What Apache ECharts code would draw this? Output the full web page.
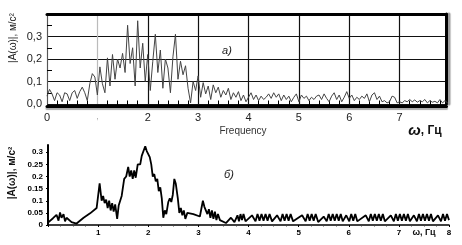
<!DOCTYPE html>
<html><head><meta charset="utf-8">
<script src="https://cdn.jsdelivr.net/npm/echarts@6/dist/echarts.min.js"></script>
<style>html,body{margin:0;padding:0;background:#fff}#c{width:462px;height:245px}</style>
</head><body><div id="c"></div>
<script>
// Top chart (а): amplitude spectrum sampled every 0.05 Hz from 0 to 8 Hz
const stepA = 0.05;
const ampA = [
 0.035,0.065,0.045,0.015,0.050,0.040,0.010,0.050,0.045,0.015,
 0.050,0.060,0.025,0.055,0.075,0.050,0.015,0.090,0.135,0.120,
 0.040,0.165,0.090,0.050,0.205,0.080,0.220,0.110,0.200,0.160,
 0.225,0.140,0.350,0.180,0.250,0.080,0.370,0.160,0.270,0.100,
 0.220,0.060,0.190,0.310,0.140,0.240,0.070,0.200,0.160,0.050,
 0.210,0.310,0.110,0.190,0.130,0.170,0.070,0.005,0.100,0.060,
 0.125,0.030,0.095,0.045,0.080,0.020,0.085,0.050,0.075,0.030,
 0.060,0.040,0.070,0.020,0.050,0.030,0.055,0.015,0.040,0.010,
 0.030,0.050,0.020,0.040,0.015,0.035,0.020,0.030,0.045,0.025,
 0.050,0.030,0.045,0.015,0.040,0.020,0.035,0.010,0.030,0.045,
 0.010,0.040,0.025,0.035,0.015,0.030,0.020,0.035,0.040,0.020,
 0.045,0.025,0.010,0.035,0.050,0.020,0.040,0.010,0.030,0.055,
 0.025,0.040,0.015,0.030,0.020,0.035,0.025,0.045,0.010,0.040,
 0.050,0.020,0.035,0.010,0.015,0.005,0.010,0.035,0.030,0.005,
 0.010,0.005,0.015,0.010,0.020,0.010,0.018,0.008,0.015,0.010,
 0.020,0.005,0.015,0.008,0.012,0.005,0.020,0.005,0.015,0.005,
 0.010
];
// Bottom chart (б)
const freqB = [
 0.00,0.10,0.17,0.21,0.24,0.27,0.31,0.34,0.37,0.47,0.57,0.71,0.84,0.97,1.03,
 1.07,1.10,1.13,1.16,1.19,1.22,1.25,1.28,1.31,1.34,1.38,1.41,1.47,1.52,1.56,
 1.60,1.63,1.66,1.69,1.72,1.75,1.79,1.84,1.87,1.94,1.97,2.00,2.03,2.06,2.09,
 2.12,2.15,2.18,2.21,2.24,2.27,2.30,2.33,2.36,2.40,2.43,2.46,2.49,2.52,2.55,
 2.59,2.62,2.65,2.68,2.71,2.74,2.78,2.90,3.03,3.09,3.12,3.15,3.18,3.21,3.24,
 3.27,3.30,3.33,3.36,3.39,3.43,3.55,3.65,3.72,3.78,3.81,3.84,3.87,3.90,3.94,
 4.07,4.14,4.18,4.22,4.26,4.30,4.34,4.38,4.42,4.47,4.57,4.64,4.68,4.72,4.76,
 4.80,4.84,4.89,5.07,5.14,5.18,5.22,5.26,5.30,5.34,5.39,5.50,5.56,5.60,5.64,
 5.68,5.72,5.76,5.80,5.84,5.88,5.95,6.01,6.05,6.09,6.13,6.17,6.34,6.40,6.44,
 6.48,6.52,6.56,6.60,6.64,6.68,6.72,6.84,6.90,6.94,6.98,7.02,7.06,7.10,7.14,
 7.18,7.22,7.30,7.36,7.40,7.44,7.48,7.52,7.56,7.60,7.64,7.68,7.78,7.84,7.88,
 7.92,7.96,8.00
];
const ampB = [
 0.010,0.028,0.042,0.018,0.052,0.030,0.045,0.015,0.030,0.012,0.006,0.030,0.048,0.070,0.172,
 0.100,0.120,0.090,0.105,0.070,0.100,0.060,0.090,0.055,0.085,0.025,0.080,0.120,0.190,0.200,
 0.240,0.200,0.225,0.190,0.225,0.195,0.250,0.250,0.285,0.325,0.305,0.310,0.280,0.250,0.200,
 0.210,0.180,0.190,0.140,0.155,0.110,0.030,0.060,0.045,0.095,0.110,0.095,0.125,0.190,0.170,
 0.110,0.050,0.070,0.040,0.060,0.025,0.050,0.045,0.035,0.100,0.075,0.080,0.045,0.065,0.030,
 0.060,0.025,0.055,0.020,0.045,0.020,0.008,0.030,0.012,0.040,0.015,0.045,0.020,0.045,0.015,
 0.040,0.015,0.045,0.018,0.045,0.018,0.045,0.018,0.045,0.015,0.040,0.015,0.045,0.018,0.045,
 0.018,0.045,0.015,0.040,0.015,0.045,0.018,0.045,0.018,0.045,0.012,0.035,0.015,0.045,0.018,
 0.045,0.018,0.045,0.018,0.045,0.015,0.040,0.015,0.045,0.018,0.045,0.015,0.040,0.015,0.045,
 0.018,0.045,0.018,0.045,0.018,0.045,0.015,0.040,0.015,0.045,0.018,0.045,0.018,0.045,0.018,
 0.045,0.015,0.040,0.015,0.045,0.018,0.045,0.018,0.045,0.018,0.045,0.015,0.040,0.015,0.045,
 0.018,0.045,0.020
];
const yTitle = '|A(ω)|, м/с²';
const xUnit = 'ω, Гц';

const dataA = ampA.map((v, i) => [+(i * stepA).toFixed(2), v]);
const dataB = freqB.map((f, i) => [f, ampB[i]]);

const chart = echarts.init(document.getElementById('c'), null, {renderer: 'canvas'});
const vColors = ['#777','#bbb','#111','#111','#111','#111','#111','#111','#111'];
chart.setOption({
  animation: false,
  backgroundColor: '#fff',
  grid: [
    {left: 47, top: 14, width: 399.5, height: 90},
    {left: 48, top: 145, width: 401, height: 80}
  ],
  xAxis: [
    {gridIndex: 0, type: 'value', min: 0, max: 7.93, interval: 1, offset: 2.5,
     axisLine: {onZero: false, lineStyle: {color: '#000', width: 3, shadowColor: '#aaa', shadowOffsetY: 2, shadowBlur: 1}},
     axisTick: {show: false, inside: true},
     minorTick: {show: true, splitNumber: 5, length: 6, lineStyle: {color: '#000', width: 1}},
     axisLabel: {margin: 6, fontSize: 11, fontFamily: 'Arial', color: '#222', showMaxLabel: false,
       formatter: v => v === 1 ? '{f|,}' : String(v), rich: {f: {color: '#aaa', fontSize: 9}}},
     splitLine: {show: true, lineStyle: {color: vColors, width: 1.2}}},
    {gridIndex: 0, type: 'value', min: 0, max: 7.93, position: 'top',
     axisLine: {onZero: false, lineStyle: {color: '#000', width: 3}},
     axisTick: {show: false}, axisLabel: {show: false}, splitLine: {show: false}},
    {gridIndex: 1, type: 'value', min: 0, max: 8, interval: 1,
     axisLine: {onZero: false, lineStyle: {color: '#000', width: 1.5}},
     axisTick: {show: true, length: 2, lineStyle: {color: '#000'}},
     minorTick: {show: true, splitNumber: 4, length: 1.5, lineStyle: {color: '#444'}},
     axisLabel: {margin: 4, fontSize: 8, fontWeight: 'bold', fontFamily: 'Arial', color: '#000',
       formatter: v => v === 0 ? '' : String(v)},
     splitLine: {show: false}}
  ],
  yAxis: [
    {gridIndex: 0, type: 'value', min: 0, max: 0.4, interval: 0.1,
     axisLine: {show: true, onZero: false, lineStyle: {color: '#555', width: 1}},
     axisTick: {show: false, inside: true},
     minorTick: {show: true, splitNumber: 2, length: 5, lineStyle: {color: '#000', width: 1}},
     axisLabel: {margin: 5, fontSize: 11, fontFamily: 'Arial', color: '#222', showMaxLabel: false,
       formatter: v => v.toFixed(1).replace('.', ',')},
     splitLine: {show: true, lineStyle: {color: '#111', width: 1}}},
    {gridIndex: 0, type: 'value', min: 0, max: 0.4, position: 'right',
     axisLine: {show: true, onZero: false, lineStyle: {color: '#000', width: 3, shadowColor: '#999', shadowOffsetX: 2.5, shadowBlur: 1}},
     axisTick: {show: false}, axisLabel: {show: false}, splitLine: {show: false}},
    {gridIndex: 1, type: 'value', min: 0, max: 0.33, interval: 0.05,
     axisLine: {show: true, onZero: false, lineStyle: {color: '#000', width: 2}},
     axisTick: {show: true, length: 2, lineStyle: {color: '#000'}},
     axisLabel: {margin: 5, fontSize: 8, fontWeight: 'bold', fontFamily: 'Arial', color: '#000', showMaxLabel: false,
       formatter: v => v === 0 ? '0' : String(+v.toFixed(2))},
     splitLine: {show: false}}
  ],
  series: [
    {type: 'line', xAxisIndex: 0, yAxisIndex: 0, data: dataA, showSymbol: false,
     lineStyle: {color: '#444', width: 1}, z: 3},
    {type: 'line', xAxisIndex: 2, yAxisIndex: 2, data: dataB, showSymbol: false,
     lineStyle: {color: '#000', width: 1.8}, z: 3}
  ],
  graphic: [
    {type: 'text', x: 13, y: 38, rotation: Math.PI / 2,
     style: {text: yTitle, font: '10px Arial', fill: '#222', align: 'center', verticalAlign: 'middle'}},
    {type: 'text', x: 12, y: 173, rotation: Math.PI / 2,
     style: {text: yTitle, font: 'bold 10px Arial', fill: '#111', align: 'center', verticalAlign: 'middle'}},
    {type: 'text', x: 227, y: 51,
     style: {text: 'а)', font: 'italic 11px Arial', fill: '#222', align: 'center', verticalAlign: 'middle'}},
    {type: 'text', x: 229, y: 175,
     style: {text: 'б)', font: 'italic 11px Arial', fill: '#222', align: 'center', verticalAlign: 'middle'}},
    {type: 'text', x: 243, y: 131,
     style: {text: 'Frequency', font: '10px Arial', fill: '#333', align: 'center', verticalAlign: 'middle'}},
    {type: 'text', x: 425, y: 131,
     style: {text: '{w|ω}{u|, Гц}', align: 'center', verticalAlign: 'middle',
       rich: {w: {font: 'italic bold 15px Arial', fill: '#111'}, u: {font: 'bold 12px Arial', fill: '#111'}}}},
    {type: 'text', x: 424, y: 233,
     style: {text: xUnit, font: 'bold 9px Arial', fill: '#111', align: 'center', verticalAlign: 'middle'}}
  ]
});
</script></body></html>
